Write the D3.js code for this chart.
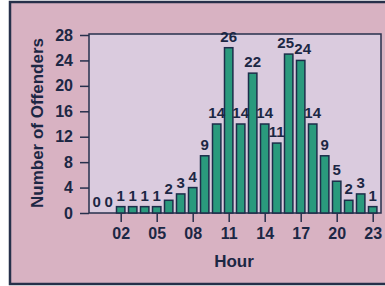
<!DOCTYPE html>
<html>
<head>
<meta charset="utf-8">
<script src="https://cdn.jsdelivr.net/npm/d3@7"></script>
<style>
  body { margin: 0; background: #ffffff; }
  text { font-family: "Liberation Sans", Arial, sans-serif; font-weight: bold; fill: #1c2744; }
</style>
</head>
<body>
<div id="chart"></div>
<script>
// hour of day vs number of offenders
var hours = d3.range(0, 24);
var offenders = [0, 0, 1, 1, 1, 1, 2, 3, 4, 9, 14, 26, 14, 22, 14, 11, 25, 24, 14, 9, 5, 2, 3, 1];
var yTicks = [0, 4, 8, 12, 16, 20, 24, 28];
var xTickHours = [2, 5, 8, 11, 14, 17, 20, 23];

var width = 385, height = 286;
var svg = d3.select("#chart").append("svg")
    .attr("width", width)
    .attr("height", height);

// outer pink panel with dark frame
svg.append("rect")
    .attr("x", 10).attr("y", 2)
    .attr("width", 380).attr("height", 282)
    .attr("fill", "#d8b2c2")
    .attr("stroke", "#26304a")
    .attr("stroke-width", 2.5);

var x = d3.scaleBand()
    .domain(hours)
    .range([90.7, 378.7])
    .paddingInner(0.3)
    .paddingOuter(0.15);

var y = d3.scaleLinear()
    .domain([0, 28])
    .range([213, 35]);

// plot area
svg.append("rect")
    .attr("x", 89).attr("y", y(28) - 1)
    .attr("width", 292).attr("height", y(0) - y(28) + 1)
    .attr("fill", "#dacbde")
    .attr("stroke", "#27304c")
    .attr("stroke-width", 1.5);

// bars
svg.selectAll("rect.bar")
    .data(offenders)
    .enter().append("rect")
    .attr("class", "bar")
    .attr("x", function(d, i) { return x(hours[i]); })
    .attr("y", function(d) { return y(d); })
    .attr("width", x.bandwidth())
    .attr("height", function(d) { return y(0) - y(d); })
    .attr("fill", "#2a9a7d")
    .attr("stroke", "#1d2d4a")
    .attr("stroke-width", 1.5);

// value labels (16 and 17 crowd each other, nudge them apart a bit)
svg.selectAll("text.val")
    .data(offenders)
    .enter().append("text")
    .attr("class", "val")
    .attr("x", function(d, i) {
        var nudge = i == 16 ? -3 : (i == 17 ? 2 : 0);
        return x(hours[i]) + x.bandwidth() / 2 + nudge;
    })
    .attr("y", function(d) { return y(d) - 6; })
    .attr("text-anchor", "middle")
    .attr("font-size", 15)
    .text(function(d) { return d; });

// y axis
var yAxis = d3.axisLeft(y).tickValues(yTicks).tickSize(9).tickPadding(7);
var gy = svg.append("g")
    .attr("transform", "translate(89,0)")
    .call(yAxis);
gy.select(".domain").remove();
gy.selectAll("line").attr("stroke", "#27304c").attr("stroke-width", 1.5);
gy.selectAll("text").attr("font-size", 16).attr("fill", "#1c2744");

// x axis
var xLabel = d3.scaleLinear().domain([0, 23])
    .range([x(0) + x.bandwidth() / 2, x(23) + x.bandwidth() / 2]);
var xAxis = d3.axisBottom(xLabel).tickValues(xTickHours).tickSize(9).tickPadding(6)
    .tickFormat(function(d) { return d3.format("02d")(d); });
var gx = svg.append("g")
    .attr("transform", "translate(0," + y(0) + ")")
    .call(xAxis);
gx.select(".domain").remove();
gx.selectAll("line").attr("stroke", "#27304c").attr("stroke-width", 1.5);
gx.selectAll("text").attr("font-size", 16).attr("fill", "#1c2744");

// axis titles
svg.append("text")
    .attr("x", 234).attr("y", 267)
    .attr("text-anchor", "middle")
    .attr("font-size", 17)
    .text("Hour");

svg.append("text")
    .attr("transform", "translate(43,123) rotate(-90)")
    .attr("text-anchor", "middle")
    .attr("font-size", 17)
    .text("Number of Offenders");
</script>
</body>
</html>
